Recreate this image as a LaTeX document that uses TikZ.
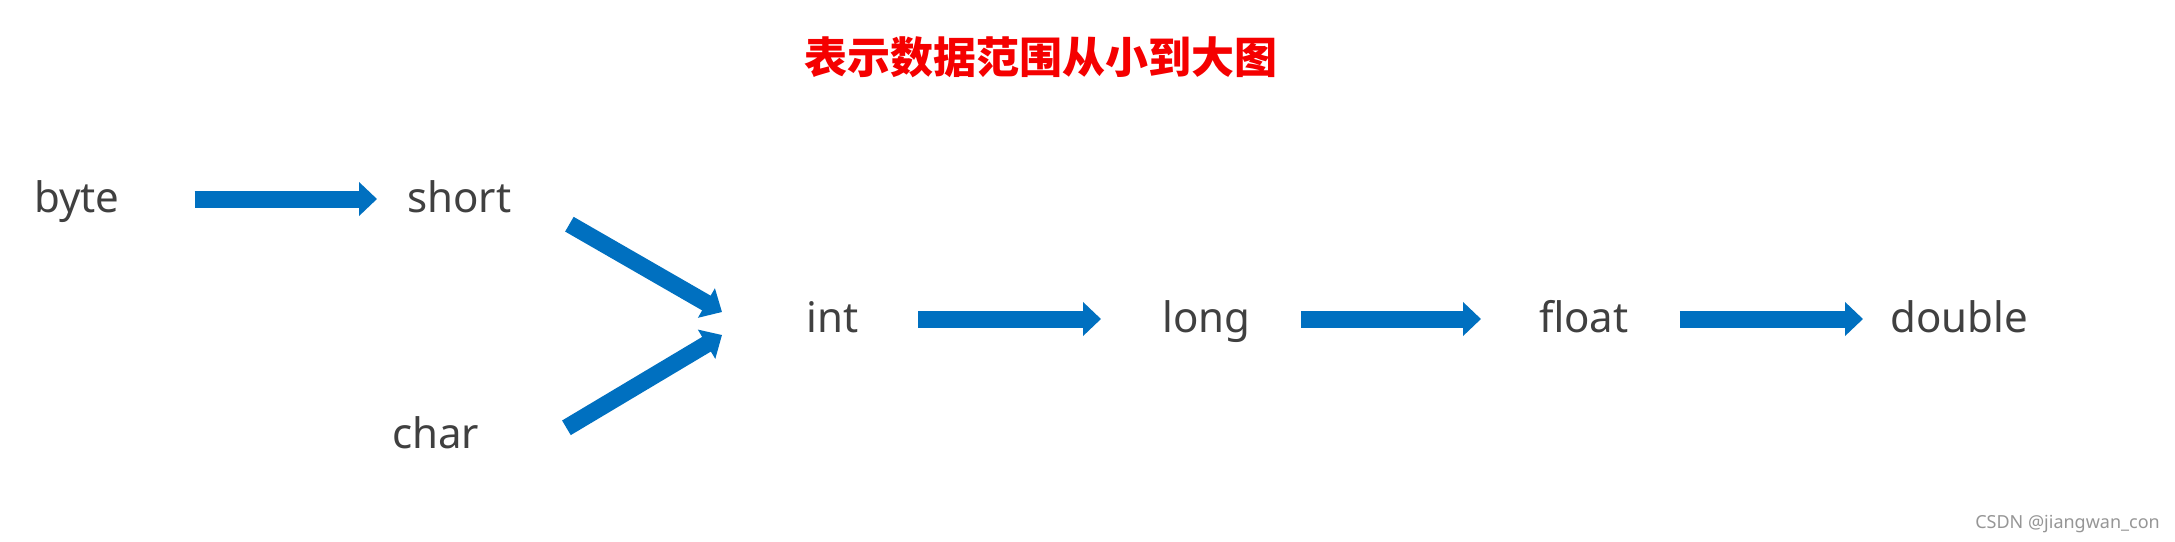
\documentclass[tikz,border=0pt]{standalone}
\usepackage{fontspec}
\setmainfont{Noto Sans}
\newfontfamily\cjkfont{Noto Sans CJK SC}
\usetikzlibrary{arrows.meta}
\definecolor{FlowBlue}{RGB}{0,112,192}
\definecolor{TypeGray}{RGB}{64,64,64}
\definecolor{TitleRed}{RGB}{245,0,0}
\definecolor{MarkGray}{RGB}{150,150,150}
\tikzset{
  type/.style={
    anchor=base west,
    inner sep=0pt,
    text height=31pt,
    text depth=5pt,
    text=TypeGray,
    font=\fontsize{42}{48}\selectfont
  },
  flow/.style={
    draw=FlowBlue,
    line width=17pt,
    -{Triangle[length=18pt,width=33pt]}
  },
  heading/.style={anchor=base,inner sep=0pt,text=TitleRed,font=\cjkfont\bfseries\fontsize{43}{50}\selectfont},
  watermark/.style={anchor=base east,inner sep=0pt,text=MarkGray,font=\fontsize{18}{22}\selectfont}
}

\begin{document}
\begin{tikzpicture}[x=1pt,y=-1pt]
\useasboundingbox[fill=white] (0,0) rectangle (2175,541);

% Title
\node[heading] (title) at (1041,73) {表示数据范围从小到大图};

% Types, placed at the left end of their baseline
\node[type] (byte) at (34,212) {byte};
\node[type] (short) at (407,212) {short};
\node[type] (char) at (392,448) {char};
\node[type] (int) at (806,332) {int};
\node[type] (long) at (1162,332) {long};
\node[type] (float) at (1539,332) {float};
\node[type] (double) at (1890,332) {double};

% Widening conversions
\draw[flow,shorten <=75pt,shorten >=30pt] (byte) -- (short);
\draw[flow] ([shift={(58,7)}]short.south east) -- ([shift={(-84,-7)}]int.west);
\draw[flow] ([shift={(87,11)}]char.north east) -- ([shift={(-84,16)}]int.west);
\draw[flow,shorten <=60pt,shorten >=61pt] (int) -- (long);
\draw[flow,shorten <=51pt,shorten >=58pt] (long) -- (float);
\draw[flow,shorten <=51pt,shorten >=27pt] (float) -- (double);

\node[watermark] (csdn) at (2160,528) {CSDN @jiangwan\_con};
\end{tikzpicture}
\end{document}
